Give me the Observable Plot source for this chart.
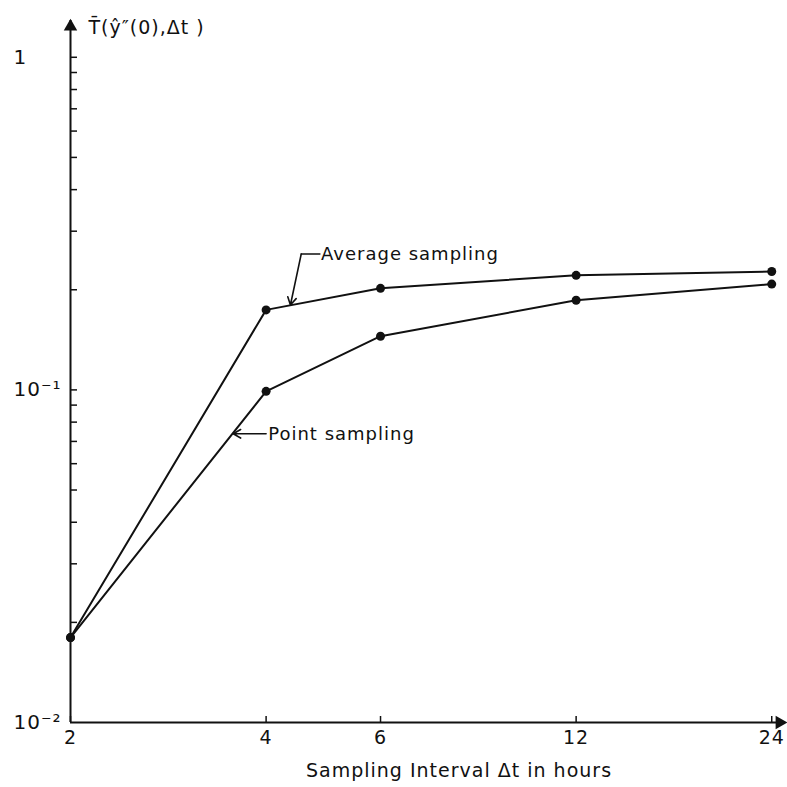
<!DOCTYPE html>
<html><head><meta charset="utf-8">
<script src="https://cdn.jsdelivr.net/npm/d3@7"></script>
<script src="https://cdn.jsdelivr.net/npm/@observablehq/plot@0.6"></script>
<style>html,body{margin:0;padding:0;background:#fff} svg{display:block}</style>
</head><body><div id="chart"></div>
<script>
// --- data ---
const intervals = [2, 4, 6, 12, 24];
const averageSampling = [0.018, 0.174, 0.202, 0.221, 0.227];
const pointSampling = [0.018, 0.099, 0.145, 0.186, 0.208];
const xTicks = [2, 4, 6, 12, 24];
const yMinorTicks = [0.02, 0.03, 0.04, 0.05, 0.06, 0.07, 0.08, 0.09,
                     0.1, 0.2, 0.3, 0.4, 0.5, 0.6, 0.7, 0.8, 0.9, 1];
const yLabelValues = [1, 0.1, 0.01];
const yLabelTexts = ["1", "10\u207B\u00B9", "10\u207B\u00B2"];
const xDomain = [2, 25.2];
const yDomain = [0.01, 1.29];
const yTitle = "T\u0304(\u0177\u2033(0),\u0394t )";
const xTitle = "Sampling Interval \u0394t in hours";
// annotation positions (data space)
const seriesNames = ["Average sampling", "Point sampling"];
const labelX = [4.86, 4.03];
const labelY = [0.256, 0.0738];
const avgLeaderX = [4.84, 4.53];
const avgLeaderY = [0.256, 0.256];
const avgArrow = {x1: 4.53, y1: 0.256, x2: 4.36, y2: 0.18};
const pointArrow = {x1: 4.0, y1: 0.0738, x2: 3.56, y2: 0.0738};

const ink = "#111";
const rows = (ys) => intervals.map((x, i) => ({x, y: ys[i]}));
const avgRows = rows(averageSampling);
const ptRows = rows(pointSampling);
const labels = seriesNames.map((t, i) => ({t, x: labelX[i], y: labelY[i]}));
const avgLeader = avgLeaderX.map((x, i) => ({x, y: avgLeaderY[i]}));

const chart = Plot.plot({
  width: 787,
  height: 787,
  marginLeft: 70,
  marginRight: 2,
  marginTop: 20,
  marginBottom: 65,
  style: {fontFamily: "DejaVu Sans, sans-serif", fontSize: "16px", color: ink, background: "#fff", letterSpacing: "1px"},
  x: {type: "log", domain: xDomain},
  y: {type: "log", domain: yDomain},
  marks: [
    // axis lines
    Plot.ruleX([xDomain[0]], {stroke: ink, strokeWidth: 2}),
    Plot.ruleY([yDomain[0]], {stroke: ink, strokeWidth: 2}),
    Plot.dot([{x: xDomain[0], y: yDomain[1]}], {x: "x", y: "y", symbol: "triangle", r: 5, fill: ink, dy: 6}),
    Plot.dot([{x: xDomain[1], y: yDomain[0]}], {x: "x", y: "y", symbol: "triangle", r: 5, fill: ink, rotate: 90, dx: -6}),
    // ticks inside
    Plot.axisY(yMinorTicks, {anchor: "left", tickSize: 7, insetLeft: 7, tickFormat: () => "", label: null, stroke: ink, strokeWidth: 1.5}),
    Plot.axisX(xTicks, {anchor: "bottom", tickSize: 6, insetBottom: 6, tickFormat: () => "", label: null, stroke: ink, strokeWidth: 1.5}),
    Plot.axisX(xTicks, {anchor: "bottom", tickSize: 0, tickPadding: 8, tickFormat: d => String(d), label: null, fontSize: 19, fill: ink}),
    // y labels
    Plot.text(yLabelValues, {y: d => d, text: (d, i) => yLabelTexts[i], frameAnchor: "left", dx: -57, textAnchor: "start", fontSize: 20, fill: ink}),
    // titles
    Plot.text([yTitle], {text: d => d, frameAnchor: "top-left", dx: 18, dy: 0, textAnchor: "start", fontSize: 19, fill: ink}),
    Plot.text([xTitle], {text: d => d, frameAnchor: "bottom", dx: 31, dy: 54, fontSize: 19, fill: ink}),
    // series
    Plot.line(avgRows, {x: "x", y: "y", stroke: ink, strokeWidth: 2}),
    Plot.line(ptRows, {x: "x", y: "y", stroke: ink, strokeWidth: 2}),
    Plot.dot(avgRows, {x: "x", y: "y", r: 4.5, fill: ink}),
    Plot.dot(ptRows, {x: "x", y: "y", r: 4.5, fill: ink}),
    // annotations
    Plot.line(avgLeader, {x: "x", y: "y", stroke: ink, strokeWidth: 1.5}),
    Plot.arrow([avgArrow], {x1: "x1", y1: "y1", x2: "x2", y2: "y2", stroke: ink, strokeWidth: 1.6, headLength: 8}),
    Plot.arrow([pointArrow], {x1: "x1", y1: "y1", x2: "x2", y2: "y2", stroke: ink, strokeWidth: 1.6, headLength: 8}),
    Plot.text(labels, {x: "x", y: "y", text: "t", textAnchor: "start", fontSize: 18, fill: ink})
  ]
});
document.getElementById("chart").appendChild(chart);
</script>
</body></html>
